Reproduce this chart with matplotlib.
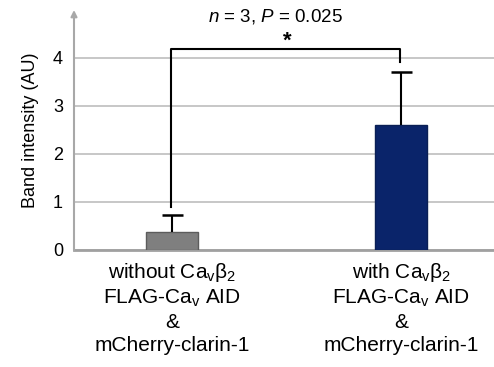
import matplotlib
matplotlib.use("Agg")
import matplotlib.pyplot as plt

categories = ["without Ca$_\\mathregular{v}$β$_2$\nFLAG-Ca$_\\mathregular{v}$ AID\n&\nmCherry-clarin-1",
              "with Ca$_\\mathregular{v}$β$_2$\nFLAG-Ca$_\\mathregular{v}$ AID\n&\nmCherry-clarin-1"]
values = [0.38, 2.6]
errors = [0.35, 1.1]
colors = ["#7f7f7f", "#0a246a"]
edgecolors = ["#5c5c5c", "#0a1f55"]
yticks = [0, 1, 2, 3, 4]
bracket_left_y = 0.9
bracket_right_y = 3.92
bracket_top_y = 4.19
stat_text = "$n$ = 3, $P$ = 0.025"

plt.rcParams['font.family'] = ['Liberation Sans', 'DejaVu Sans']
plt.rcParams['mathtext.fontset'] = 'custom'
plt.rcParams['mathtext.rm'] = 'Liberation Sans'
plt.rcParams['mathtext.it'] = 'Liberation Sans:italic'

fig = plt.figure(figsize=(4.94, 3.67), dpi=100)
ax = fig.add_axes([74/494, 1-250/367, 420/494, 240/367])

x = [0, 1]
ax.bar(x, values, width=0.227, color=colors, edgecolor=edgecolors, linewidth=1.0, zorder=3)
tops = [v + e for v, e in zip(values, errors)]
ax.vlines(x, values, tops, color='black', lw=1.5, zorder=4)
cap = 0.045
ax.hlines(tops, [xi - cap for xi in x], [xi + cap for xi in x], color='black', lw=1.8, zorder=4)

ax.set_xlim(-0.43, 1.405)
ax.set_ylim(0, 5)
ax.set_yticks(yticks)
ax.set_yticklabels([str(t) for t in yticks], fontsize=13)
ax.tick_params(axis='y', length=0, pad=8)
ax.tick_params(axis='x', length=0, pad=8)
ax.set_xticks(x)
ax.set_xticklabels(categories, fontsize=15, linespacing=1.25)
ax.yaxis.grid(True, color='#bdbdbd', linewidth=1.2, zorder=0)
ax.set_axisbelow(True)
for s in ['top', 'right']:
    ax.spines[s].set_visible(False)
ax.spines['left'].set_visible(False)
ax.spines['bottom'].set_color('#a0a0a0')
ax.spines['bottom'].set_linewidth(2)

ax.annotate('', xy=(0, 1.0), xycoords='axes fraction', xytext=(0, 0),
            arrowprops=dict(arrowstyle='-|>', color='#a8a8a8', lw=1.5,
                            mutation_scale=9, shrinkA=0, shrinkB=0))

ax.set_ylabel("Band intensity (AU)", fontsize=13, labelpad=10)

# significance bracket
ax.plot([-0.005, -0.005, 0.995, 0.995],
        [bracket_left_y, bracket_top_y, bracket_top_y, bracket_right_y],
        color='black', lw=1.5, zorder=5, clip_on=False)
ax.text(0.5, bracket_top_y - 0.05, "*", ha='center', va='bottom', fontsize=16, fontweight='bold')
ax.text(0.45, 4.66, stat_text, ha='center', va='bottom', fontsize=13.5)

fig.savefig("out.png", dpi=100)
